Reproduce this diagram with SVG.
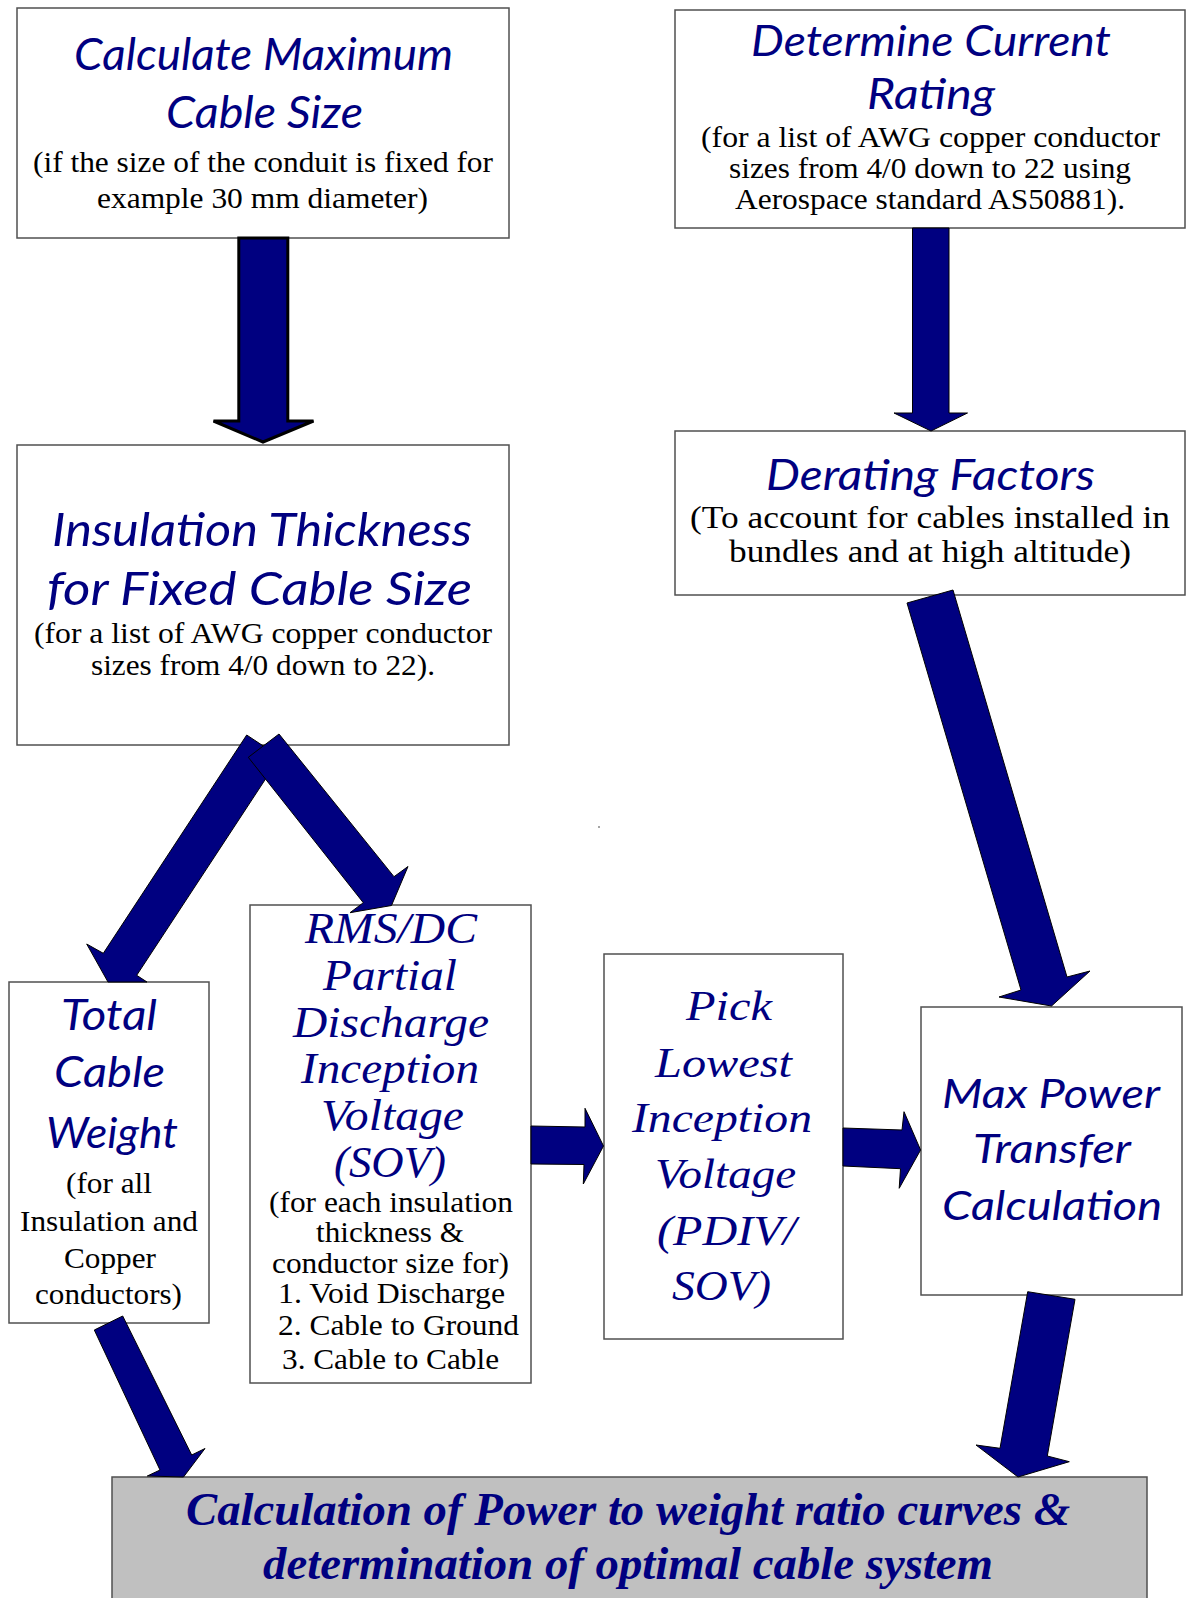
<svg xmlns="http://www.w3.org/2000/svg" width="1191" height="1598" viewBox="0 0 1191 1598">
<style>
.box{fill:#fff;stroke:#505050;stroke-width:1.5}
.grey{fill:#C0C0C0;stroke:#505050;stroke-width:1.5}
.t{font-family:Lato,"Noto Sans",sans-serif;font-style:italic;fill:#000080}
.ti{font-family:"Liberation Serif",serif;font-style:italic;fill:#000080}
.b{font-family:"Liberation Serif",serif;fill:#000}
.g{font-family:"Liberation Serif",serif;font-style:italic;font-weight:bold;fill:#000080}
.arr{fill:#000080;stroke:#000;stroke-width:1;stroke-linejoin:miter}
.arrk{fill:#000080;stroke:#000;stroke-width:3;stroke-linejoin:miter}
</style>
<rect width="1191" height="1598" fill="#fff"/>
<g id="node-max-cable-size">
<rect class="box" x="17" y="8" width="492" height="230"/>
<text class="t" font-size="45" x="74" y="70" textLength="379" lengthAdjust="spacingAndGlyphs">Calculate Maximum</text>
<text class="t" font-size="45" x="166" y="128" textLength="197" lengthAdjust="spacingAndGlyphs">Cable Size</text>
<text class="b" font-size="30" x="33" y="172" textLength="460" lengthAdjust="spacingAndGlyphs">(if the size of the conduit is fixed for</text>
<text class="b" font-size="30" x="97" y="208" textLength="331" lengthAdjust="spacingAndGlyphs">example 30 mm diameter)</text>
</g>
<g id="node-current-rating">
<rect class="box" x="675" y="10" width="510" height="218"/>
<text class="t" font-size="42" x="751" y="56" textLength="360" lengthAdjust="spacingAndGlyphs">Determine Current</text>
<text class="t" font-size="42" x="867" y="109" textLength="128" lengthAdjust="spacingAndGlyphs">Rating</text>
<text class="b" font-size="29" x="701" y="147" textLength="459" lengthAdjust="spacingAndGlyphs">(for a list of AWG copper conductor</text>
<text class="b" font-size="29" x="729" y="178" textLength="402" lengthAdjust="spacingAndGlyphs">sizes from 4/0 down to 22 using</text>
<text class="b" font-size="29" x="735" y="209" textLength="390" lengthAdjust="spacingAndGlyphs">Aerospace standard AS50881).</text>
</g>
<g id="node-derating">
<rect class="box" x="675" y="431" width="510" height="164"/>
<text class="t" font-size="42" x="766" y="490" textLength="329" lengthAdjust="spacingAndGlyphs">Derating Factors</text>
<text class="b" font-size="31" x="690" y="528" textLength="480" lengthAdjust="spacingAndGlyphs">(To account for cables installed in</text>
<text class="b" font-size="31" x="729" y="562" textLength="402" lengthAdjust="spacingAndGlyphs">bundles and at high altitude)</text>
</g>
<g id="node-insulation">
<rect class="box" x="17" y="445" width="492" height="300"/>
<text class="t" font-size="47" x="52" y="546" textLength="420" lengthAdjust="spacingAndGlyphs">Insulation Thickness</text>
<text class="t" font-size="47" x="47" y="605" textLength="425" lengthAdjust="spacingAndGlyphs">for Fixed Cable Size</text>
<text class="b" font-size="29" x="34" y="643" textLength="458" lengthAdjust="spacingAndGlyphs">(for a list of AWG copper conductor</text>
<text class="b" font-size="29" x="91" y="675" textLength="344" lengthAdjust="spacingAndGlyphs">sizes from 4/0 down to 22).</text>
</g>
<g id="node-total-weight">
<rect class="box" x="9" y="982" width="200" height="341"/>
<text class="t" font-size="42" x="61" y="1030" textLength="96" lengthAdjust="spacingAndGlyphs">Total</text>
<text class="t" font-size="42" x="54" y="1087" textLength="111" lengthAdjust="spacingAndGlyphs">Cable</text>
<text class="t" font-size="42" x="46" y="1148" textLength="132" lengthAdjust="spacingAndGlyphs">Weight</text>
<text class="b" font-size="29" x="66" y="1193" textLength="86" lengthAdjust="spacingAndGlyphs">(for all</text>
<text class="b" font-size="29" x="20" y="1231" textLength="178" lengthAdjust="spacingAndGlyphs">Insulation and</text>
<text class="b" font-size="29" x="64" y="1268" textLength="92" lengthAdjust="spacingAndGlyphs">Copper</text>
<text class="b" font-size="29" x="35" y="1304" textLength="147" lengthAdjust="spacingAndGlyphs">conductors)</text>
</g>
<g id="node-rms-dc">
<rect class="box" x="250" y="905" width="281" height="478"/>
<text class="ti" font-size="45" x="305" y="943" textLength="172" lengthAdjust="spacingAndGlyphs">RMS/DC</text>
<text class="ti" font-size="45" x="323" y="990" textLength="134" lengthAdjust="spacingAndGlyphs">Partial</text>
<text class="ti" font-size="45" x="293" y="1037" textLength="196" lengthAdjust="spacingAndGlyphs">Discharge</text>
<text class="ti" font-size="45" x="301" y="1083" textLength="178" lengthAdjust="spacingAndGlyphs">Inception</text>
<text class="ti" font-size="45" x="321" y="1130" textLength="143" lengthAdjust="spacingAndGlyphs">Voltage</text>
<text class="ti" font-size="45" x="334" y="1177" textLength="112" lengthAdjust="spacingAndGlyphs">(SOV)</text>
<text class="b" font-size="29" x="269" y="1212" textLength="244" lengthAdjust="spacingAndGlyphs">(for each insulation</text>
<text class="b" font-size="29" x="316" y="1242" textLength="148" lengthAdjust="spacingAndGlyphs">thickness &amp;</text>
<text class="b" font-size="29" x="272" y="1273" textLength="237" lengthAdjust="spacingAndGlyphs">conductor size for)</text>
<text class="b" font-size="29" x="278" y="1303" textLength="227" lengthAdjust="spacingAndGlyphs">1. Void Discharge</text>
<text class="b" font-size="29" x="278" y="1335" textLength="241" lengthAdjust="spacingAndGlyphs">2. Cable to Ground</text>
<text class="b" font-size="29" x="282" y="1369" textLength="217" lengthAdjust="spacingAndGlyphs">3. Cable to Cable</text>
</g>
<g id="node-pick-lowest">
<rect class="box" x="604" y="954" width="239" height="385"/>
<text class="ti" font-size="43" x="686" y="1020" textLength="86" lengthAdjust="spacingAndGlyphs">Pick</text>
<text class="ti" font-size="43" x="655" y="1077" textLength="137" lengthAdjust="spacingAndGlyphs">Lowest</text>
<text class="ti" font-size="43" x="632" y="1132" textLength="180" lengthAdjust="spacingAndGlyphs">Inception</text>
<text class="ti" font-size="43" x="655" y="1188" textLength="141" lengthAdjust="spacingAndGlyphs">Voltage</text>
<text class="ti" font-size="43" x="657" y="1245" textLength="139" lengthAdjust="spacingAndGlyphs">(PDIV/</text>
<text class="ti" font-size="43" x="672" y="1300" textLength="99" lengthAdjust="spacingAndGlyphs">SOV)</text>
</g>
<g id="node-max-power">
<rect class="box" x="921" y="1007" width="261" height="288"/>
<text class="t" font-size="41" x="942" y="1108" textLength="218" lengthAdjust="spacingAndGlyphs">Max Power</text>
<text class="t" font-size="41" x="973" y="1163" textLength="158" lengthAdjust="spacingAndGlyphs">Transfer</text>
<text class="t" font-size="41" x="942" y="1220" textLength="220" lengthAdjust="spacingAndGlyphs">Calculation</text>
</g>
<g id="node-power-weight">
<rect class="grey" x="112" y="1477" width="1035" height="130"/>
<text class="g" font-size="46" x="186" y="1525" textLength="884" lengthAdjust="spacingAndGlyphs">Calculation of Power to weight ratio curves &amp;</text>
<text class="g" font-size="46" x="263" y="1579" textLength="730" lengthAdjust="spacingAndGlyphs">determination of optimal cable system</text>
</g>
<g id="connectors">
<polygon class="arrk" points="238.8,238 287.8,238 287.8,421 313.5,421 263,442 213.5,421 238.8,421"/>
<polygon class="arr" points="912.5,228 949,228 949,413 967.5,413 931,431 894,413 912.5,413"/>
<polygon class="arr" points="907,603 953,590 1067,977 1090,971 1051.5,1006 999,997 1021,990"/>
<polygon class="arr" points="246.7,735 280,757 136.7,975.3 147,982 108,982 86.7,944 103.3,953.3"/>
<polygon class="arr" points="248.3,757.3 279,734 394,876.7 408,866.5 391.5,905.5 350,912.7 363.3,902.7"/>
<polygon class="arr" points="94.3,1330 122.7,1316 191.7,1455 205,1448.5 183.5,1477 147.3,1476 160,1470"/>
<polygon class="arr" points="1027.7,1291.7 1075,1299.3 1047.3,1456 1069.3,1461.7 1018,1477 976,1445 1000,1448.3"/>
<polygon class="arr" points="531,1126 585,1127 585,1108.3 603.5,1146 583.3,1184 584,1164.5 531,1164"/>
<polygon class="arr" points="843,1128 902,1130 904,1111.7 920.6,1150 899.2,1188.3 900.5,1168.7 843,1166"/>
</g>
<circle cx="599" cy="827" r="0.8" fill="#333"/>
</svg>
